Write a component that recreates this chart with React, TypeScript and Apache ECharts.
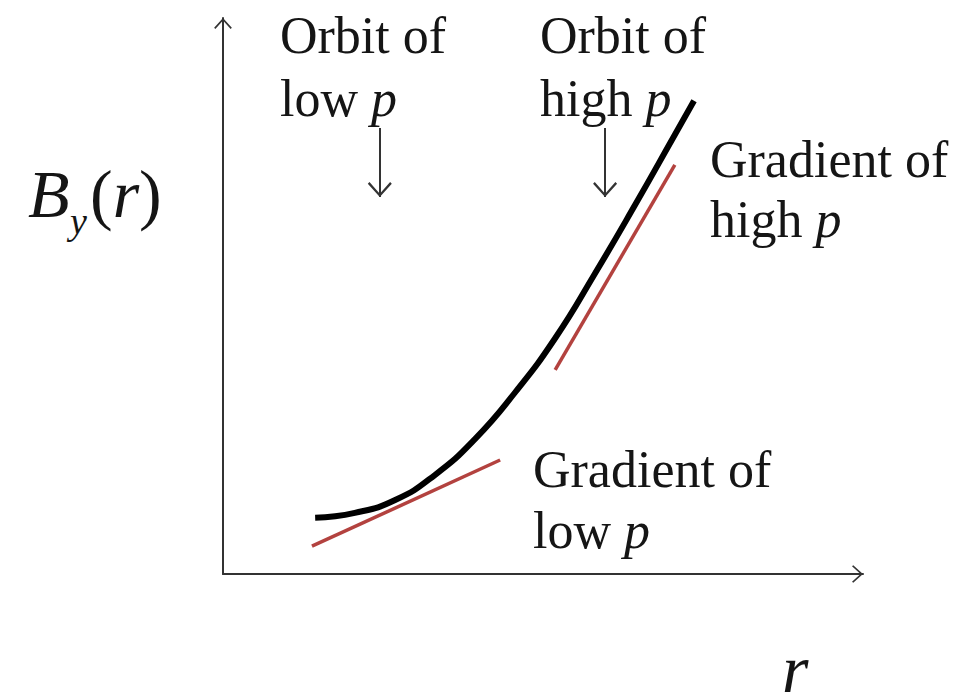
import React, { useEffect, useRef } from "react";
import * as echarts from "echarts";

// Field profile B_y(r): evenly spaced samples along the curve (r, B_y)
const curveR = [14.4, 20.6, 26.9, 33.1, 39.4, 45.6, 51.9, 58.1, 64.4, 70.6, 73.6];
const curveB = [10.1, 11.0, 13.3, 17.8, 24.3, 32.6, 42.4, 54.0, 66.4, 79.0, 85.1];

// Tangent segments (gradients) for low and high p
const lowGradR = [13.9, 43.3];
const lowGradB = [5.0, 20.5];
const highGradR = [51.9, 70.6];
const highGradB = [36.7, 73.6];

// Orbit marker arrows: r position, start and tip heights
const orbitArrowR = [24.5, 59.7];
const orbitArrowTop = 80.2;
const orbitArrowTip = 67.8;

// Open chevron arrow head, tip centred in its box
const CHEVRON =
  "path://M0,0 L10,11 L8.6,12.4 L0,2.8 L-8.6,12.4 L-10,11 Z M0,-12.4 Z";

const SERIF = "'Liberation Serif', 'Times New Roman', serif";
const INK = "#151515";
const RED = "#b3423f";

const toPairs = (xs: number[], ys: number[]) => xs.map((x, i) => [x, ys[i]]);

// baseline -> centre offset for the SVG central baseline
const mid = (baseline: number, size: number) => baseline - 0.3375 * size;

function label(x: number, baseline: number, words: string, italic?: string) {
  const size = 52;
  return {
    type: "text",
    x,
    y: mid(baseline, size),
    silent: true,
    style: {
      text: italic ? `${words} {i|${italic}}` : words,
      fontFamily: SERIF,
      fontSize: size,
      fill: INK,
      verticalAlign: "middle",
      rich: {
        i: { fontFamily: SERIF, fontSize: size, fontStyle: "italic", fill: INK },
      },
    },
  };
}

export default function App() {
  const ref = useRef<HTMLDivElement>(null);

  useEffect(() => {
    if (!ref.current) return;
    const chart = echarts.init(ref.current, undefined, { renderer: "svg" });

    const axisCommon = {
      type: "value" as const,
      min: 0,
      max: 100,
      axisTick: { show: false },
      axisLabel: { show: false },
      splitLine: { show: false },
    };

    chart.setOption({
      animation: false,
      backgroundColor: "#ffffff",
      grid: { left: 223, right: 113, top: 18, bottom: 118 },
      xAxis: {
        ...axisCommon,
        axisLine: {
          show: true,
          symbol: ["none", CHEVRON],
          symbolSize: [18, 22],
          lineStyle: { color: "#333", width: 2 },
        },
      },
      yAxis: {
        ...axisCommon,
        axisLine: {
          show: true,
          symbol: ["none", CHEVRON],
          symbolSize: [18, 22],
          lineStyle: { color: "#333", width: 2 },
        },
      },
      series: [
        {
          name: "B_y(r)",
          type: "line",
          data: toPairs(curveR, curveB),
          smooth: 0.5,
          showSymbol: false,
          lineStyle: { color: "#000", width: 6 },
          silent: true,
          z: 3,
        },
        {
          name: "Gradient of low p",
          type: "line",
          data: toPairs(lowGradR, lowGradB),
          showSymbol: false,
          lineStyle: { color: RED, width: 3.5 },
          silent: true,
          z: 2,
        },
        {
          name: "Gradient of high p",
          type: "line",
          data: toPairs(highGradR, highGradB),
          showSymbol: false,
          lineStyle: { color: RED, width: 3.5 },
          silent: true,
          z: 2,
        },
        {
          name: "Orbits",
          type: "line",
          data: [],
          silent: true,
          markLine: {
            silent: true,
            symbol: ["none", CHEVRON],
            symbolSize: [24, 30],
            label: { show: false },
            lineStyle: { color: "#333", width: 2, type: "solid" },
            data: orbitArrowR.map((r) => [
              { coord: [r, orbitArrowTop] },
              { coord: [r, orbitArrowTip] },
            ]),
          },
        },
      ],
      graphic: [
        label(280, 53, "Orbit of"),
        label(280, 116, "low", "p"),
        label(540, 53, "Orbit of"),
        label(540, 116, "high", "p"),
        label(710, 177, "Gradient of"),
        label(710, 237, "high", "p"),
        label(533, 487, "Gradient of"),
        label(533, 548, "low", "p"),
        // vertical axis title B_y(r)
        {
          type: "text",
          x: 28,
          y: mid(217, 68),
          silent: true,
          style: {
            text: "B",
            fontFamily: SERIF,
            fontSize: 68,
            fontStyle: "italic",
            fill: INK,
            verticalAlign: "middle",
          },
        },
        {
          type: "text",
          x: 70,
          y: mid(234, 38),
          silent: true,
          style: {
            text: "y",
            fontFamily: SERIF,
            fontSize: 38,
            fontStyle: "italic",
            fill: INK,
            verticalAlign: "middle",
          },
        },
        {
          type: "text",
          x: 90,
          y: mid(217, 68),
          silent: true,
          style: {
            text: "({i|r})",
            fontFamily: SERIF,
            fontSize: 68,
            fill: INK,
            verticalAlign: "middle",
            rich: {
              i: { fontFamily: SERIF, fontSize: 68, fontStyle: "italic", fill: INK },
            },
          },
        },
        // horizontal axis title r
        {
          type: "text",
          x: 782,
          y: mid(692, 68),
          silent: true,
          style: {
            text: "r",
            fontFamily: SERIF,
            fontSize: 68,
            fontStyle: "italic",
            fill: INK,
            verticalAlign: "middle",
          },
        },
      ],
    });

    return () => chart.dispose();
  }, []);

  return (
    <div
      ref={ref}
      style={{
        position: "fixed",
        left: 0,
        top: 0,
        width: 976,
        height: 692,
        background: "#fff",
      }}
    />
  );
}
